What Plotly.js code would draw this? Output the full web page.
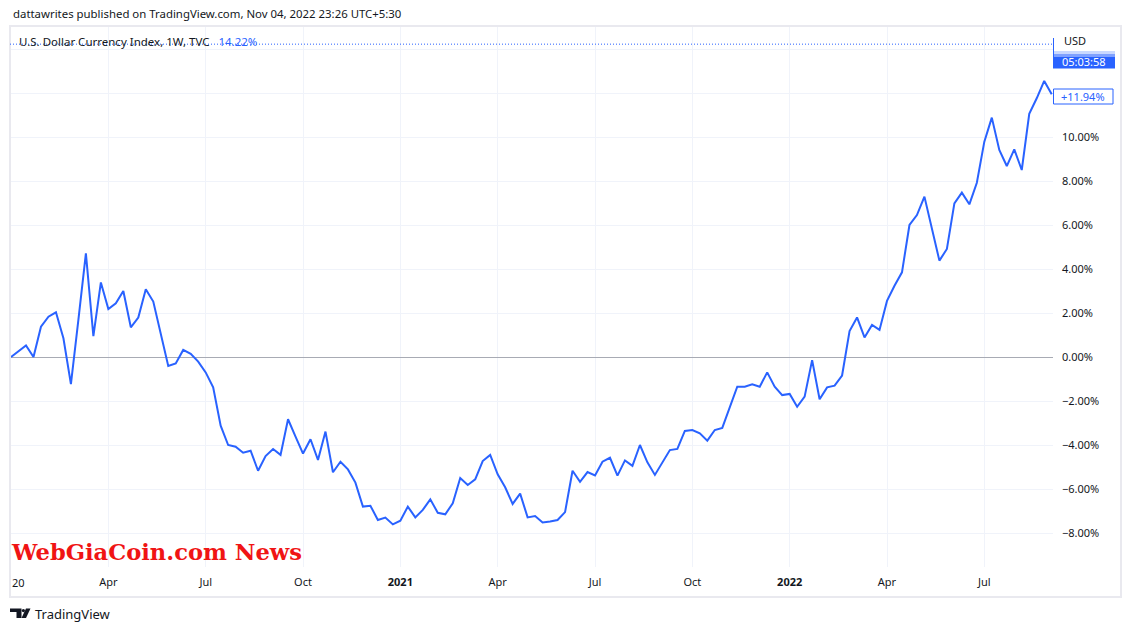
<!DOCTYPE html>
<html>
<head>
<meta charset="utf-8">
<script src="https://cdn.plot.ly/plotly-3.0.1.min.js"></script>
<style>
html,body{margin:0;padding:0;background:#fff;}
#chart{width:1131px;height:632px;}
</style>
</head>
<body>
<div id="chart"></div>
<script>
// ---- data (weekly % change vs first bar) ----
const firstWeek = '2020-01-06';
const dxyChangePct = [
  0.00, 0.27, 0.53, 0.00, 1.38, 1.83, 2.03, 0.85, -1.23, 1.70,
  4.71, 0.95, 3.39, 2.18, 2.44, 3.00, 1.35, 1.79, 3.08, 2.52,
  1.05, -0.41, -0.29, 0.32, 0.14, -0.21, -0.70, -1.38, -3.12, -4.00,
  -4.08, -4.35, -4.26, -5.17, -4.50, -4.18, -4.45, -2.83, -3.62, -4.39,
  -3.74, -4.68, -3.39, -5.24, -4.76, -5.11, -5.71, -6.80, -6.76, -7.41,
  -7.30, -7.61, -7.44, -6.80, -7.29, -6.95, -6.47, -7.08, -7.15, -6.65,
  -5.50, -5.82, -5.56, -4.73, -4.45, -5.33, -5.92, -6.68, -6.21, -7.29,
  -7.23, -7.52, -7.48, -7.41, -7.05, -5.17, -5.67, -5.23, -5.38, -4.76,
  -4.58, -5.39, -4.70, -4.95, -4.00, -4.79, -5.36, -4.80, -4.23, -4.18,
  -3.36, -3.32, -3.47, -3.80, -3.32, -3.22, -2.33, -1.35, -1.35, -1.24,
  -1.35, -0.70, -1.35, -1.73, -1.68, -2.26, -1.80, -0.14, -1.92, -1.38,
  -1.30, -0.84, 1.18, 1.80, 0.89, 1.46, 1.23, 2.55, 3.24, 3.85,
  6.00, 6.45, 7.29, 5.85, 4.38, 4.91, 6.98, 7.47, 6.94, 7.92,
  9.79, 10.88, 9.41, 8.68, 9.44, 8.50, 11.05, 11.76, 12.55, 11.94
];
const xTickDates = ['2020-04-06','2020-07-06','2020-10-05','2021-01-04','2021-04-05','2021-07-05','2021-10-04','2022-01-03','2022-04-04','2022-07-04'];
const xTickLabels = ['Apr','Jul','Oct','<b>2021</b>','Apr','Jul','Oct','<b>2022</b>','Apr','Jul'];
const yTickVals = [-8,-6,-4,-2,0,2,4,6,8,10,12,14];
const yTickLabels = ['\u22128.00%','\u22126.00%','\u22124.00%','\u22122.00%','0.00%','2.00%','4.00%','6.00%','8.00%','10.00%','',''];
const lastPriceChange = 14.22;
const lastLabel = '+11.94%';
const countdown = '05:03:58';

// weekly bar dates
const weekDates = [];
{
  const d0 = new Date(firstWeek + 'T00:00:00Z');
  for (let i = 0; i < dxyChangePct.length; i++) {
    const d = new Date(d0.getTime() + i * 7 * 86400000);
    weekDates.push(d.toISOString().slice(0, 10));
  }
}

// ---- geometry helpers (pixel -> paper) ----
const L = 10, R = 78, T = 27, B = 65, W = 1131, H = 632;
const pw = W - L - R, ph = H - T - B;
const px = x => (x - L) / pw;
const py = y => (H - B - y) / ph;

const FONT = 'Noto Sans, Open Sans, sans-serif';
const TXT = '#131722';
const BLUE = '#2962FF';

const trace = {
  x: weekDates, y: dxyChangePct, type: 'scatter', mode: 'lines',
  line: {color: BLUE, width: 2}, hoverinfo: 'skip'
};

const shapes = [
  // chart frame
  {type:'rect', xref:'paper', yref:'paper', x0:px(10), x1:px(1121), y0:py(597), y1:py(26),
   line:{color:'#e9e9ef', width:2}, fillcolor:'rgba(0,0,0,0)', layer:'above'},
  // last price dotted line
  {type:'line', xref:'paper', yref:'y', x0:0, x1:1, y0:lastPriceChange, y1:lastPriceChange,
   line:{color:BLUE, width:1, dash:'1px,2px'}},
  // price label box edge
  {type:'line', xref:'paper', yref:'paper', x0:px(1053.5), x1:px(1053.5), y0:py(68), y1:py(38),
   line:{color:BLUE, width:1}},
  // gradient of blue box
  {type:'rect', xref:'paper', yref:'paper', x0:px(1053), x1:px(1115), y0:py(54), y1:py(51),
   line:{width:0}, fillcolor:'rgba(41,98,255,0.25)'},
  {type:'rect', xref:'paper', yref:'paper', x0:px(1053), x1:px(1115), y0:py(57), y1:py(54),
   line:{width:0}, fillcolor:'rgba(41,98,255,0.6)'},
  {type:'rect', xref:'paper', yref:'paper', x0:px(1053), x1:px(1115), y0:py(68.5), y1:py(57),
   line:{width:0}, fillcolor:BLUE},
  // last value label box
  {type:'rect', xref:'paper', yref:'paper', x0:px(1053.5), x1:px(1113), y0:py(104), y1:py(89),
   line:{color:BLUE, width:1}, fillcolor:'#ffffff'},
  // TradingView logo: T
  {type:'path', xref:'paper', yref:'paper', line:{width:0}, fillcolor:TXT,
   path:`M ${px(10)} ${py(608.5)} L ${px(21.5)} ${py(608.5)} L ${px(21.5)} ${py(618)} L ${px(16.5)} ${py(618)} L ${px(16.5)} ${py(612)} L ${px(10)} ${py(612)} Z`},
  // dot
  {type:'circle', xref:'paper', yref:'paper', line:{width:0}, fillcolor:TXT,
   x0:px(21.8), x1:px(25), y0:py(612.2), y1:py(609)},
  // slash
  {type:'path', xref:'paper', yref:'paper', line:{width:0}, fillcolor:TXT,
   path:`M ${px(26)} ${py(608.5)} L ${px(30.5)} ${py(608.5)} L ${px(26)} ${py(618)} L ${px(21.5)} ${py(618)} Z`}
];

const annotations = [
  {xref:'paper', yref:'paper', x:px(11), y:py(14), xanchor:'left', yanchor:'middle', showarrow:false,
   text:'dattawrites published on TradingView.com, Nov 04, 2022 23:26 UTC+5:30',
   font:{family:FONT, size:11.4, color:TXT}},
  {xref:'paper', yref:'paper', x:px(17), y:py(41.5), xanchor:'left', yanchor:'middle', showarrow:false,
   text:'U.S. Dollar Currency Index, 1W, TVC   <span style="color:#2962FF">14.22%</span>',
   font:{family:FONT, size:11.5, color:TXT}},
  {xref:'paper', yref:'paper', x:px(9), y:py(551.5), xanchor:'left', yanchor:'middle', showarrow:false,
   text:'<b>WebGiaCoin.com News</b>',
   font:{family:'DejaVu Serif', size:22.6, color:'#f01414'}},
  {xref:'paper', yref:'paper', x:px(18), y:py(582), xanchor:'center', yanchor:'middle', showarrow:false,
   text:'20', font:{family:FONT, size:11, color:TXT}},
  {xref:'paper', yref:'paper', x:px(1062), y:py(41), xanchor:'left', yanchor:'middle', showarrow:false,
   text:'USD', font:{family:FONT, size:11, color:TXT}},
  {xref:'paper', yref:'paper', x:px(1084), y:py(61.5), xanchor:'center', yanchor:'middle', showarrow:false,
   text:countdown, font:{family:FONT, size:11, color:'#ffffff'}},
  {xref:'paper', yref:'paper', x:px(1083), y:py(96.5), xanchor:'center', yanchor:'middle', showarrow:false,
   text:lastLabel, font:{family:FONT, size:11, color:BLUE}},
  {xref:'paper', yref:'paper', x:px(33), y:py(614), xanchor:'left', yanchor:'middle', showarrow:false,
   text:'TradingView', font:{family:FONT, size:13, color:TXT}}
];

const layout = {
  width: W, height: H,
  margin: {l: L, r: R, t: T, b: B, pad: 0},
  paper_bgcolor: '#ffffff', plot_bgcolor: '#ffffff',
  showlegend: false,
  xaxis: {
    type: 'date',
    range: ['2020-01-05 01:00', '2022-09-06 05:00'],
    tickmode: 'array', tickvals: xTickDates, ticktext: xTickLabels,
    showgrid: true, gridcolor: '#f0f3fa', gridwidth: 1,
    zeroline: false, showline: false, ticks: '',
    tickfont: {family: FONT, size: 11, color: TXT},
    ticklabelstandoff: 7, fixedrange: true
  },
  yaxis: {
    side: 'right',
    range: [-(567 - 357) / 22, (357 - 27) / 22],
    tickmode: 'array', tickvals: yTickVals, ticktext: yTickLabels,
    showgrid: true, gridcolor: '#f0f3fa', gridwidth: 1,
    zeroline: true, zerolinecolor: '#a8abb4', zerolinewidth: 1,
    showline: false, ticks: '',
    tickfont: {family: FONT, size: 11, color: TXT},
    ticklabelstandoff: 8, fixedrange: true
  },
  shapes: shapes,
  annotations: annotations
};

Plotly.newPlot('chart', [trace], layout, {displayModeBar: false, staticPlot: true});
</script>
</body>
</html>
